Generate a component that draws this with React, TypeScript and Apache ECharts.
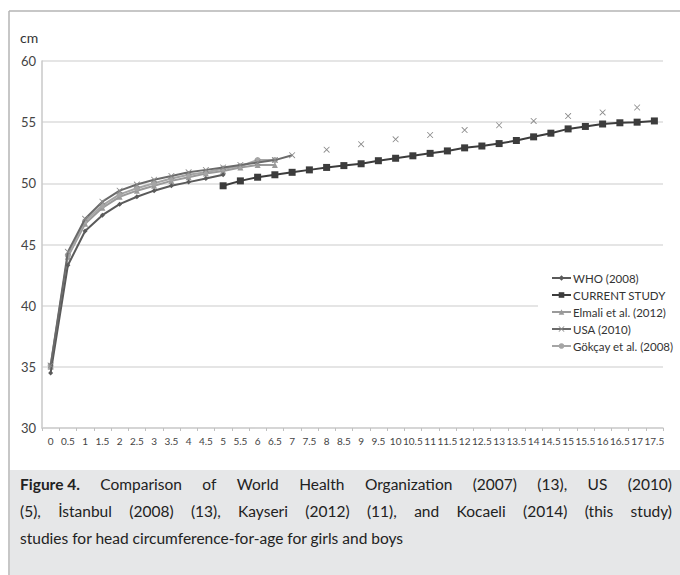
import React, { useEffect, useRef } from "react";
import * as echarts from "echarts";

const ages = ["0","0.5","1","1.5","2","2.5","3","3.5","4","4.5","5","5.5","6","6.5","7","7.5","8","8.5","9","9.5","10","10.5","11","11.5","12","12.5","13","13.5","14","14.5","15","15.5","16","16.5","17","17.5"];

const who2008 = [34.5,43.3,46.1,47.4,48.3,48.9,49.4,49.8,50.1,50.4,50.7,null,null,null,null,null,null,null,null,null,null,null,null,null,null,null,null,null,null,null,null,null,null,null,null,null];
const currentStudy = [null,null,null,null,null,null,null,null,null,null,49.8,50.2,50.5,50.7,50.9,51.1,51.3,51.45,51.6,51.85,52.05,52.25,52.45,52.65,52.9,53.05,53.25,53.5,53.8,54.1,54.45,54.65,54.85,54.95,55.0,55.1];
const elmali2012 = [35.0,44.0,46.7,48.0,48.9,49.4,49.8,50.2,50.5,50.8,51.0,51.3,51.5,51.5,null,null,null,null,null,null,null,null,null,null,null,null,null,null,null,null,null,null,null,null,null,null];
const usa2010 = [35.1,44.4,47.1,48.5,49.4,49.9,50.3,50.6,50.9,51.1,51.3,51.5,51.7,51.9,52.3,null,52.75,null,53.2,null,53.6,null,53.95,null,54.35,null,54.75,null,55.1,null,55.5,null,55.8,null,56.2,null];
const gokcay2008 = [35.1,44.1,46.9,48.2,49.1,49.6,50.0,50.4,50.7,50.9,51.2,51.4,51.9,51.9,null,null,null,null,null,null,null,null,null,null,null,null,null,null,null,null,null,null,null,null,null,null];

const yTicks = { min: 30, max: 60, interval: 5 };

const captionLines = [
  ["Figure 4.", "Comparison", "of", "World", "Health", "Organization", "(2007)", "(13),", "US", "(2010)"],
  ["(5),", "İstanbul", "(2008)", "(13),", "Kayseri", "(2012)", "(11),", "and", "Kocaeli", "(2014)", "(this", "study)"],
  ["studies for head circumference-for-age for girls and boys"],
];

const FONT = "Lato, 'Open Sans', sans-serif";
const CAP_SIZE = 15.5;
const X_PATH = "path://M0,0 L1,0 L10,9 L10,10 L9,10 L0,1 Z M9,0 L10,0 L10,1 L1,10 L0,10 L0,9 Z";

function measure(text: string, bold: boolean): number {
  const c = document.createElement("canvas").getContext("2d")!;
  c.font = `${bold ? "bold " : ""}${CAP_SIZE}px Lato`;
  return c.measureText(text).width;
}

function captionGraphics(): any[] {
  const out: any[] = [];
  const x0 = 20, x1 = 672, tops = [476, 503, 530];
  captionLines.forEach((words, li) => {
    const justify = li < captionLines.length - 1;
    const widths = words.map((w, wi) => measure(w, li === 0 && wi === 0));
    const total = widths.reduce((a, b) => a + b, 0);
    const gap = justify && words.length > 1 ? (x1 - x0 - total) / (words.length - 1) : 0;
    let x = x0;
    words.forEach((w, wi) => {
      const bold = li === 0 && wi === 0;
      out.push({
        type: "text", x, y: tops[li],
        style: { text: w, fontSize: CAP_SIZE, fontWeight: bold ? "bold" : "normal", fill: "#222", fontFamily: FONT },
      });
      x += widths[wi] + gap;
    });
  });
  return out;
}

export default function App() {
  const ref = useRef<HTMLDivElement>(null);
  useEffect(() => {
    document.body.style.margin = "0";
    const chart = echarts.init(ref.current!, null, { renderer: "svg" });
    chart.setOption({
      animation: false,
      backgroundColor: "#ffffff",
      textStyle: { fontFamily: FONT },
      grid: { left: 42, right: 17, top: 61, bottom: 147, containLabel: false },
      legend: {
        orient: "vertical",
        left: 538,
        top: 269,
        padding: [3, 2, 3, 13],
        backgroundColor: "#ffffff",
        itemGap: 5,
        itemWidth: 19,
        itemHeight: 7,
        textStyle: { fontSize: 11.5, color: "#333", fontFamily: FONT, padding: [0, 0, 0, -3] },
        data: ["WHO (2008)", "CURRENT STUDY", "Elmali et al. (2012)", "USA (2010)", "Gökçay et al. (2008)"],
      },
      xAxis: {
        type: "category",
        data: ages,
        boundaryGap: true,
        axisLine: { show: true, lineStyle: { color: "#d0d0d0", width: 1.5 } },
        axisTick: { show: true, length: 3, lineStyle: { color: "#c0c0c0" } },
        axisLabel: { interval: 0, fontSize: 10, color: "#444", margin: 8, fontFamily: FONT },
        splitLine: { show: false },
      },
      yAxis: {
        type: "value",
        min: yTicks.min,
        max: yTicks.max,
        interval: yTicks.interval,
        axisLine: { show: true, lineStyle: { color: "#c8c8c8", width: 1.5 } },
        axisTick: { show: false },
        axisLabel: { fontSize: 13, color: "#444", margin: 6, fontFamily: FONT },
        splitLine: { show: true, lineStyle: { color: "#dcdcdc", width: 1.5 } },
      },
      series: [
        {
          name: "WHO (2008)", type: "line", data: who2008, z: 3,
          symbol: "diamond", symbolSize: 5,
          lineStyle: { color: "#5a5a5a", width: 2 }, itemStyle: { color: "#5a5a5a" },
        },
        {
          name: "Elmali et al. (2012)", type: "line", data: elmali2012, z: 2,
          symbol: "triangle", symbolSize: 6,
          lineStyle: { color: "#9a9a9a", width: 2 }, itemStyle: { color: "#9a9a9a" },
        },
        {
          name: "Gökçay et al. (2008)", type: "line", data: gokcay2008, z: 2,
          symbol: "circle", symbolSize: 6,
          lineStyle: { color: "#a5a5a5", width: 2 }, itemStyle: { color: "#a5a5a5" },
        },
        {
          name: "USA (2010)", type: "line", data: usa2010, z: 3,
          symbol: X_PATH, symbolSize: 6,
          lineStyle: { color: "#6a6a6a", width: 2 }, itemStyle: { color: "#8a8a8a" },
        },
        {
          name: "CURRENT STUDY", type: "line", data: currentStudy, z: 4,
          symbol: "rect", symbolSize: 7,
          lineStyle: { color: "#3c3c3c", width: 2 }, itemStyle: { color: "#3c3c3c" },
        },
      ],
      graphic: [
        { type: "line", shape: { x1: 9, y1: 11, x2: 680, y2: 11 }, style: { stroke: "#b5b5b5", lineWidth: 1.5 }, silent: true },
        { type: "line", shape: { x1: 9, y1: 11, x2: 9, y2: 575 }, style: { stroke: "#b5b5b5", lineWidth: 1.5 }, silent: true },
        { type: "text", left: 20, top: 30, style: { text: "cm", fontSize: 14, fill: "#333", fontFamily: FONT } },
        { type: "rect", shape: { x: 10, y: 470, width: 670, height: 105 }, style: { fill: "#e6e7e8" }, silent: true },
        ...captionGraphics(),
      ],
    });
    return () => chart.dispose();
  }, []);
  return <div ref={ref} style={{ width: 680, height: 575 }} />;
}
